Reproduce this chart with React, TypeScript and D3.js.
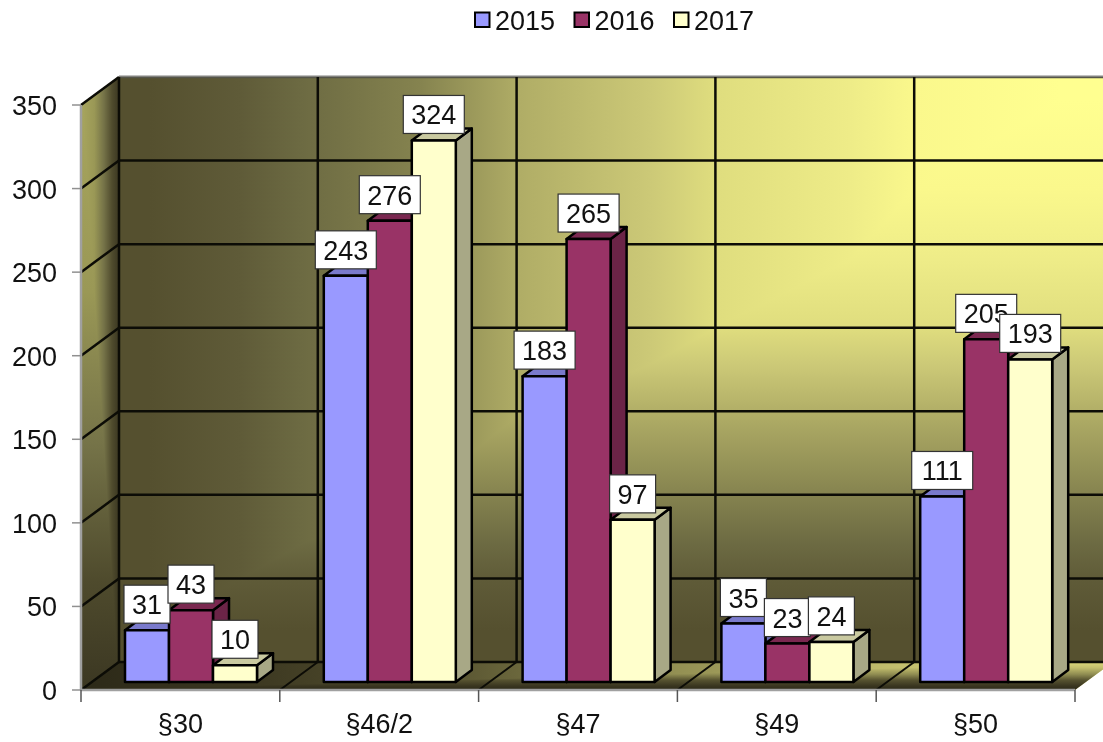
import React from "react";
import * as d3 from "d3";

const categories = ["§30", "§46/2", "§47", "§49", "§50"];
const seriesNames = ["2015", "2016", "2017"];
const values2015 = [31, 243, 183, 35, 111];
const values2016 = [43, 276, 265, 23, 205];
const values2017 = [10, 324, 97, 24, 193];
const seriesValues = [values2015, values2016, values2017];
const yTicks = [0, 50, 100, 150, 200, 250, 300, 350];
const faceColors = ["#9999ff", "#993366", "#ffffcc"];
const topColors = ["#7a7acc", "#7a2850", "#c9c9a0"];
const sideColors = ["#6c6cb4", "#6b2447", "#a8a886"];

const W = 1103, H = 742;
const FX0 = 81, FX1 = 1075, FY0 = 690, FY1 = 105;
const DX = 38, DY = -28;
const ZX = 11, ZY = -8;
const BDX = 16, BDY = -12;

const x = d3.scaleBand<string>().domain(categories).range([FX0, FX1]);
const inner = d3.scaleBand<string>().domain(seriesNames).range([33, 165]);
const y = d3.scaleLinear().domain([0, 350]).range([FY0, FY1]);

// wall colour bands: colour, where it falls along the top edge, where it falls down the right edge
const wallBands: [string, number, number][] = [
  ["#ffff90", 1060, 100],
  ["#faf88c", 914, 190],
  ["#eeec88", 850, 260],
  ["#dfdd7e", 715, 328],
  ["#ccc977", 650, 365],
  ["#b0ad66", 520, 414],
  ["#85834f", 420, 495],
  ["#6c6a42", 300, 545],
  ["#5f5b38", 240, 579],
  ["#55502f", 150, 630],
];
const sideStops: [number, string][] = [[0, "#a8a65e"], [0.35, "#9a9856"], [0.6, "#757348"], [0.82, "#4f4b2d"], [1, "#3b3722"]];
const floorStops: [number, string][] = [[0, "#dcd87c"], [0.2, "#c4c06e"], [0.45, "#8d8a50"], [0.65, "#565230"], [0.85, "#3a3620"], [1, "#2c2918"]];

function Grad({ id, a, b, s }: { id: string; a: [number, number]; b: [number, number]; s: [number, string][] }) {
  return (
    <linearGradient id={id} gradientUnits="userSpaceOnUse" x1={a[0]} y1={a[1]} x2={b[0]} y2={b[1]}>
      {s.map(([o, c], i) => <stop key={i} offset={o} stopColor={c} />)}
    </linearGradient>
  );
}
const pts = (p: number[][]) => p.map(q => q.join(",")).join(" ");

export default function App() {
  const bx0 = FX0 + DX, bx1 = FX1 + DX, by0 = FY0 + DY, by1 = FY1 + DY;
  const font = "'Liberation Sans', Arial, sans-serif";
  const wallH = wallBands.map(([c, px]) => [(bx1 - px) / (bx1 - bx0), c] as [number, string]);
  const wallV = wallBands.map(([c, , py]) => [(py - by1) / (by0 - by1), c] as [number, string]);
  const wallBoundary = [[bx1, by1], ...wallBands.map(([, px, py]) => [px, py]), [bx0, by0], [bx1, by0]];
  const bars = categories.flatMap((c, ci) =>
    seriesNames.map((s, si) => {
      const left = (x(c) as number) + ZX + (inner(s) as number);
      const bw = inner.bandwidth();
      const v = seriesValues[si][ci];
      const bottom = FY0 + ZY;
      const top = y(v) + ZY;
      return { key: c + s, left, bw, v, top, bottom, si };
    })
  );
  return (
    <svg width={W} height={H} viewBox={`0 0 ${W} ${H}`} style={{ position: "absolute", left: 0, top: 0, background: "#fff" }}>
      <defs>
        <filter id="soft" x="0" y="0" width="100%" height="100%" colorInterpolationFilters="sRGB">
          <feGaussianBlur stdDeviation="0.7" />
        </filter>
        <Grad id="wallH" a={[bx1, by1]} b={[bx0, by1]} s={wallH} />
        <Grad id="wallV" a={[bx1, by1]} b={[bx1, by0]} s={wallV} />
        <Grad id="sideH" a={[FX0, by1]} b={[bx0, by1]} s={sideStops} />
        <Grad id="sideV" a={[FX0, by1]} b={[FX0, FY0]} s={sideStops} />
        <Grad id="floorH" a={[bx1, by0]} b={[FX0, by0]} s={floorStops} />
        <Grad id="floorV" a={[bx1, by0]} b={[bx1, FY0]} s={floorStops} />
        <clipPath id="sideClip"><polygon points={pts([[FX0, FY1], [bx0, by1], [bx0, by0], [FX0, FY0]])} /></clipPath>
        <clipPath id="floorClip"><polygon points={pts([[FX0, FY0], [bx0, by0], [bx1, by0], [FX1, FY0]])} /></clipPath>
      </defs>
      <g filter="url(#soft)">
        {/* back wall */}
        <rect x={bx0} y={by1} width={bx1 - bx0} height={by0 - by1} fill="url(#wallH)" />
        <polygon points={pts(wallBoundary)} fill="url(#wallV)" />
        {/* side wall */}
        <g clipPath="url(#sideClip)">
          <rect x={FX0} y={by1} width={DX} height={FY0 - by1} fill="url(#sideH)" />
          <polygon points={pts([[FX0, by1], [bx0, FY0], [FX0, FY0]])} fill="url(#sideV)" />
        </g>
        {/* floor */}
        <g clipPath="url(#floorClip)">
          <rect x={FX0} y={by0} width={bx1 - FX0} height={FY0 - by0} fill="url(#floorH)" />
          <polygon points={pts([[bx1, by0], [bx1, FY0], [FX0, FY0]])} fill="url(#floorV)" />
        </g>
        {/* gridlines */}
        {yTicks.map(t => (
          <g key={t} stroke="#0c0c06" strokeWidth={2.5} fill="none">
            <line x1={bx0} x2={bx1} y1={y(t) + DY} y2={y(t) + DY} stroke={t === 350 ? "#55554a" : "#0c0c06"} />
            <line x1={FX0} y1={y(t)} x2={bx0} y2={y(t) + DY} />
          </g>
        ))}
        {categories.slice(1).map(c => (
          <g key={c} stroke="#0c0c06" fill="none">
            <line x1={(x(c) as number) + DX} x2={(x(c) as number) + DX} y1={by1} y2={by0} strokeWidth={2.5} />
            <line x1={x(c) as number} y1={FY0} x2={(x(c) as number) + DX} y2={by0} strokeWidth={2} />
          </g>
        ))}
        <line x1={bx0} x2={bx0} y1={by1} y2={by0} stroke="#0c0c06" strokeWidth={2.5} />
        {/* axes */}
        <line x1={FX0} x2={FX0} y1={FY1} y2={FY0} stroke="#a0a0a0" strokeWidth={2.5} />
        <line x1={FX0} x2={FX1} y1={FY0} y2={FY0} stroke="#a0a0a0" strokeWidth={2.5} />
        <line x1={bx0} x2={bx1} y1={by1 - 1} y2={by1 - 1} stroke="#b0b0b0" strokeWidth={1.2} />
        {yTicks.map(t => (
          <line key={t} x1={FX0 - 9} x2={FX0} y1={y(t)} y2={y(t)} stroke="#909090" strokeWidth={1.5} />
        ))}
        {[...categories.map(c => x(c) as number), FX1].map(v => (
          <line key={v} x1={v} x2={v} y1={FY0} y2={FY0 + 12} stroke="#555" strokeWidth={1.5} />
        ))}
        {/* bars */}
        {bars.map(b => (
          <g key={b.key} stroke="#000" strokeWidth={2.5} strokeLinejoin="round">
            <polygon points={pts([[b.left + b.bw, b.top], [b.left + b.bw + BDX, b.top + BDY], [b.left + b.bw + BDX, b.bottom + BDY], [b.left + b.bw, b.bottom]])} fill={sideColors[b.si]} />
            <polygon points={pts([[b.left, b.top], [b.left + BDX, b.top + BDY], [b.left + b.bw + BDX, b.top + BDY], [b.left + b.bw, b.top]])} fill={topColors[b.si]} />
            <rect x={b.left} y={b.top} width={b.bw} height={b.bottom - b.top} fill={faceColors[b.si]} />
          </g>
        ))}
        {/* data labels */}
        {bars.map(b => {
          const w = String(b.v).length > 2 ? 61 : 46;
          const cx = b.left + b.bw / 2;
          const cy = b.top - 26;
          return (
            <g key={b.key}>
              <rect x={cx - w / 2} y={cy - 19} width={w} height={38} fill="#fff" stroke="#333" strokeWidth={1.2} />
              <text x={cx} y={cy + 10} textAnchor="middle" fontFamily={font} fontSize={27} fill="#111">{b.v}</text>
            </g>
          );
        })}
        {/* axis labels */}
        {yTicks.map(t => (
          <text key={t} x={57} y={y(t) + 10} textAnchor="end" fontFamily={font} fontSize={27} fill="#111">{t}</text>
        ))}
        {categories.map(c => (
          <text key={c} x={(x(c) as number) + x.bandwidth() / 2} y={733} textAnchor="middle" fontFamily={font} fontSize={27} fill="#111">{c}</text>
        ))}
        {/* legend */}
        {seriesNames.map((s, i) => {
          const lx = d3.scaleLinear().domain([0, 1]).range([475, 574.5])(i);
          return (
            <g key={s}>
              <rect x={lx} y={12.5} width={14.5} height={14.5} fill={faceColors[i]} stroke="#000" strokeWidth={2} />
              <text x={lx + 20} y={30} fontFamily={font} fontSize={27} fill="#111">{s}</text>
            </g>
          );
        })}
      </g>
    </svg>
  );
}
